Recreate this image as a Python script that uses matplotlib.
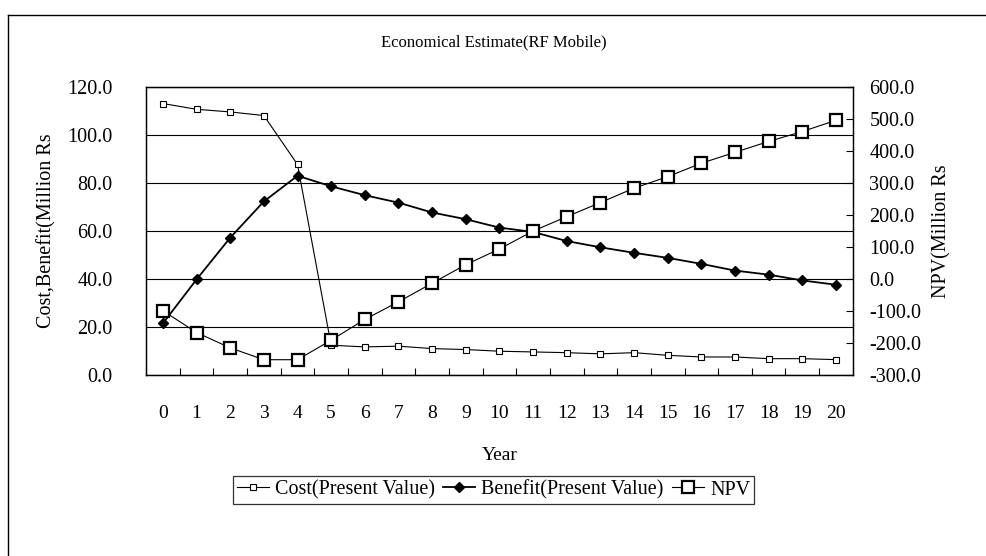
import numpy as np
import matplotlib
matplotlib.use('Agg')
import matplotlib.pyplot as plt
from matplotlib.lines import Line2D

# =============================================================================
# DATA
# =============================================================================

years = list(range(21))
year_labels = [str(y) for y in years]

cost_pv = [113.0, 110.6, 109.5, 108.0, 87.6, 12.3, 11.6, 11.9, 10.9, 10.5,
           9.8, 9.5, 9.2, 8.7, 9.2, 8.1, 7.4, 7.4, 6.7, 6.7, 6.3]
benefit_pv = [21.4, 39.7, 57.1, 72.2, 82.9, 78.5, 74.8, 71.7, 67.6, 64.8,
              61.3, 59.5, 55.7, 53.1, 50.8, 48.7, 46.2, 43.4, 41.7, 39.3, 37.5]
npv = [-100, -168, -216, -253, -253, -192, -127, -72, -14, 44,
       93, 149, 194, 238, 283, 319, 361, 395, 429, 460, 495]

left_ticks = [0, 20, 40, 60, 80, 100, 120]
right_ticks = [-300, -200, -100, 0, 100, 200, 300, 400, 500, 600]

# =============================================================================
# PLOTTING
# =============================================================================

plt.rcParams['font.family'] = ['Liberation Serif', 'DejaVu Serif']

fig = plt.figure(figsize=(9.87, 5.56), dpi=100)
ax = fig.add_axes([0.148, 0.326, 0.716, 0.518])
ax2 = ax.twinx()

x = np.array(years)
l_cost, = ax.plot(x, cost_pv, color='black', lw=0.8, marker='s', ms=4,
                  mfc='white', mec='black', mew=0.8,
                  label='Cost(Present Value)')
l_ben, = ax.plot(x, benefit_pv, color='black', lw=1.3, marker='D', ms=5,
                 mfc='black', mec='black', label='Benefit(Present Value)')
l_npv, = ax2.plot(x, npv, color='black', lw=0.8, marker='s', ms=8,
                  mfc='white', mec='black', mew=1.6, label='NPV')

ax.set_xlim(-0.5, 20.5)
ax.set_ylim(0, 120)
ax2.set_ylim(-300, 600)

ax.set_xticks(x)
ax.set_xticklabels(year_labels)
ax.set_xticks(np.arange(-0.5, 21, 1.0), minor=True)
ax.tick_params(axis='x', which='major', length=0, pad=22, labelsize=14)
ax.tick_params(axis='x', which='minor', direction='in', length=5, width=0.8)

ax.set_yticks(left_ticks)
ax.set_yticklabels([f"{v:.1f}" for v in left_ticks])
ax.tick_params(axis='y', length=0, pad=24, labelsize=14.5)
ax.yaxis.grid(True, color='black', lw=0.8)
ax.set_axisbelow(True)

ax2.set_yticks(right_ticks)
ax2.set_yticklabels([f"{v:.1f}" for v in right_ticks])
ax2.tick_params(axis='y', direction='in', length=5, width=0.8, pad=12,
                labelsize=14.5)

for a in (ax, ax2):
    for sp in a.spines.values():
        sp.set_color('black')
        sp.set_linewidth(0.9)

ax.set_ylabel("Cost,Benefit(Million Rs", fontsize=14.5, labelpad=8)
ax2.set_ylabel("NPV(Million Rs", fontsize=14.5, labelpad=8)
ax.set_xlabel("Year", fontsize=14, labelpad=18)

fig.text(0.5, 0.924, "Economical Estimate(RF Mobile)", ha='center',
         va='center', fontsize=12)

leg = fig.legend(handles=[l_cost, l_ben, l_npv], loc='center',
                 bbox_to_anchor=(0.5, 0.119), ncol=3, fontsize=14.5,
                 frameon=True, fancybox=False, edgecolor='black',
                 handlelength=1.6, handletextpad=0.3, columnspacing=0.4,
                 borderpad=0.2, borderaxespad=0)
leg.get_frame().set_linewidth(0.9)

# outer chart border (top and left edges visible in the scan)
fig.add_artist(Line2D([0.008, 1.0], [0.973, 0.973], color='black', lw=1.0,
                      transform=fig.transFigure))
fig.add_artist(Line2D([0.008, 0.008], [0.0, 0.973], color='black', lw=1.0,
                      transform=fig.transFigure))

fig.savefig('out.png', dpi=100)
